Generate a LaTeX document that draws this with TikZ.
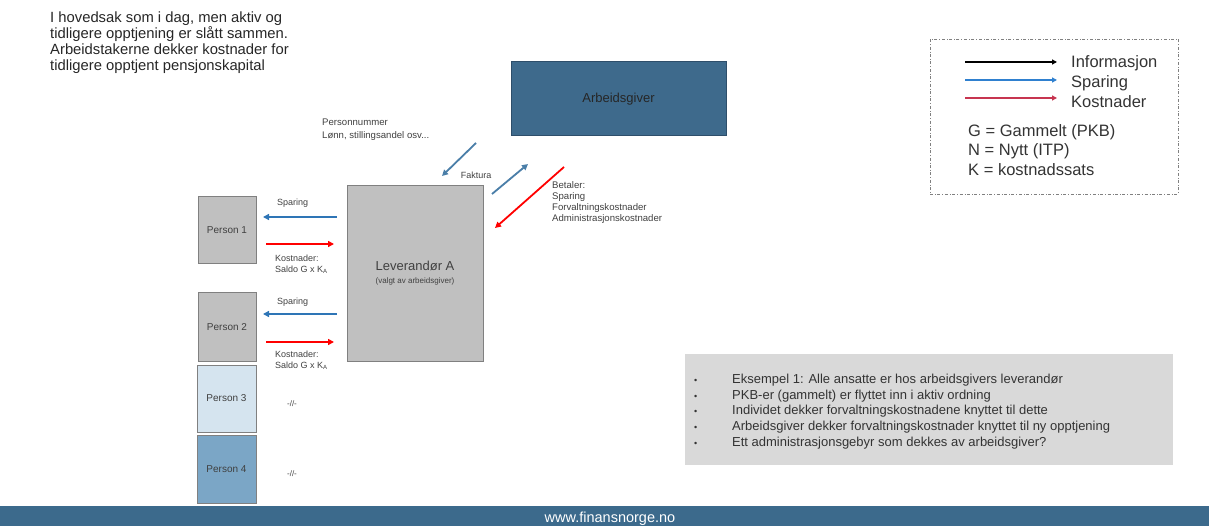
\documentclass[tikz,border=0pt]{standalone}
\usepackage{fontspec}
\setmainfont{Liberation Sans}
\usetikzlibrary{arrows.meta}
\definecolor{agblue}{HTML}{3E6A8C}
\definecolor{agline}{HTML}{2E4E6A}
\definecolor{levgray}{HTML}{C0C0C0}
\definecolor{boxline}{HTML}{808080}
\definecolor{lightp}{HTML}{D5E4EF}
\definecolor{midp}{HTML}{7BA6C6}
\definecolor{sparblue}{HTML}{2E75B6}
\definecolor{steelblue}{HTML}{4A7EA8}
\definecolor{legblue}{HTML}{2F80CF}
\definecolor{legred}{HTML}{C73550}
\definecolor{notegray}{HTML}{D9D9D9}
\definecolor{footblue}{HTML}{3C6A8C}
\definecolor{txtgray}{HTML}{404040}
\begin{document}
\begin{tikzpicture}[x=1pt,y=-1pt,
  every node/.style={inner sep=0pt,text=txtgray},
  fs/.style 2 args={font=\fontsize{#1}{#2}\selectfont},
  box/.style={draw=boxline,line width=1pt,fill=#1},
  spar/.style={draw=sparblue,line width=1.8pt,-{Triangle[length=6pt,width=6pt]}},
  kost/.style={draw=red,line width=1.8pt,-{Triangle[length=6pt,width=6pt]}},
  info/.style={draw=steelblue,line width=1.8pt,-{Triangle[length=6pt,width=6pt]}},
  legarrow/.style={draw=#1,line width=1.5pt,-{Triangle[length=5pt,width=5pt]}}]
  \useasboundingbox (0,0) rectangle (1209,526);
  \node[fs={14.8}{16},align=left,anchor=north west,text=black!85] (intro) at (50,12) {I hovedsak som i dag, men aktiv og\\tidligere opptjening er slått sammen.\\Arbeidstakerne dekker kostnader for\\tidligere opptjent pensjonskapital};
  \node[box=agblue,draw=agline,minimum width=215pt,minimum height=74pt,fs={13}{15},text=black!85] (ag) at (618.5,99) {Arbeidsgiver};
  \node[box=levgray,minimum width=136pt,minimum height=175pt,align=center] (lev) at (415,273.5) {{\fontsize{13}{15}\selectfont Leverandør A}\\[1pt]{\fontsize{8}{10}\selectfont (valgt av arbeidsgiver)}};
  \node[box=levgray,minimum width=58pt,minimum height=67pt,fs={10}{12}] (p1) at (227,230.5) {Person 1};
  \node[box=levgray,minimum width=58pt,minimum height=68pt,fs={10}{12}] (p2) at (227,327) {Person 2};
  \node[box=lightp,minimum width=59pt,minimum height=67pt,fs={10}{12}] (p3) at (226.5,398.5) {Person 3};
  \node[box=midp,minimum width=59pt,minimum height=68pt,fs={10}{12}] (p4) at (226.5,469) {Person 4};
  \coordinate (s1a) at (337,217); \coordinate (s1b) at (263,217);
  \coordinate (k1a) at (266,244); \coordinate (k1b) at (334,244);
  \coordinate (s2a) at (337,314); \coordinate (s2b) at (263,314);
  \coordinate (k2a) at (266,342); \coordinate (k2b) at (334,342);
  \draw[spar] (s1a) -- (s1b);
  \draw[kost] (k1a) -- (k1b);
  \draw[spar] (s2a) -- (s2b);
  \draw[kost] (k2a) -- (k2b);
  \node[fs={9}{11},anchor=west] (sp1) at (277,203) {Sparing};
  \node[fs={9}{11},anchor=west] (sp2) at (277,302) {Sparing};
  \node[fs={9}{10.5},align=left,anchor=north west] (ko1) at (275,255) {Kostnader:\\Saldo G x K\textsubscript{A}};
  \node[fs={9}{10.5},align=left,anchor=north west] (ko2) at (275,351) {Kostnader:\\Saldo G x K\textsubscript{A}};
  \node[fs={8}{10}] (r3) at (292,404) {-//-};
  \node[fs={8}{10}] (r4) at (292,474) {-//-};
  \node[fs={9.6}{12.5},align=left,anchor=north west] (pnr) at (322,119) {Personnummer\\Lønn, stillingsandel osv...};
  \coordinate (i1a) at (476,143); \coordinate (i1b) at (442,176);
  \coordinate (f1a) at (492,194); \coordinate (f1b) at (528,164);
  \coordinate (b1a) at (564,167); \coordinate (b1b) at (495,228);
  \draw[info] (i1a) -- (i1b);
  \draw[info] (f1a) -- (f1b);
  \draw[kost] (b1a) -- (b1b);
  \node[fs={9}{11}] (fak) at (476,175) {Faktura};
  \node[fs={9.6}{11},align=left,anchor=north west] (bet) at (552,181) {Betaler:\\Sparing\\Forvaltningskostnader\\Administrasjonskostnader};
  \node[draw=gray,dash dot,line width=0.6pt,minimum width=248pt,minimum height=155pt] (leg) at (1054,116.5) {};
  \coordinate (l1a) at (965,62); \coordinate (l1b) at (1057,62);
  \coordinate (l2a) at (965,80); \coordinate (l2b) at (1057,80);
  \coordinate (l3a) at (965,98); \coordinate (l3b) at (1057,98);
  \draw[legarrow=black] (l1a) -- (l1b);
  \draw[legarrow=legblue] (l2a) -- (l2b);
  \draw[legarrow=legred] (l3a) -- (l3b);
  \node[fs={16.5}{19},anchor=west,text=black!80] (li) at (1071,63) {Informasjon};
  \node[fs={16.5}{19},anchor=west,text=black!80] (ls) at (1071,83) {Sparing};
  \node[fs={16.5}{19},anchor=west,text=black!80] (lk) at (1071,102) {Kostnader};
  \node[fs={16.5}{19.5},align=left,anchor=north west,text=black!80] (key) at (968,124) {G = Gammelt (PKB)\\N = Nytt (ITP)\\K = kostnadssats};
  \node[fill=notegray,minimum width=488pt,minimum height=111pt] (note) at (929,409.5) {};
  \node[fs={13}{15.8},anchor=north west,text=black!80] (txt) at (694,372) {\begin{tabular}{@{}p{38pt}@{}l@{}}
    {\small\textbullet} & Eksempel 1: Alle ansatte er hos arbeidsgivers leverandør\\
    {\small\textbullet} & PKB-er (gammelt) er flyttet inn i aktiv ordning\\
    {\small\textbullet} & Individet dekker forvaltningskostnadene knyttet til dette\\
    {\small\textbullet} & Arbeidsgiver dekker forvaltningskostnader knyttet til ny opptjening\\
    {\small\textbullet} & Ett administrasjonsgebyr som dekkes av arbeidsgiver?
  \end{tabular}};
  \node[fill=footblue,minimum width=1209pt,minimum height=20pt] (foot) at (604.5,516) {};
  \node[fs={14.5}{16},text=white] (url) at (610,518.5) {www.finansnorge.no};
\end{tikzpicture}
\end{document}
